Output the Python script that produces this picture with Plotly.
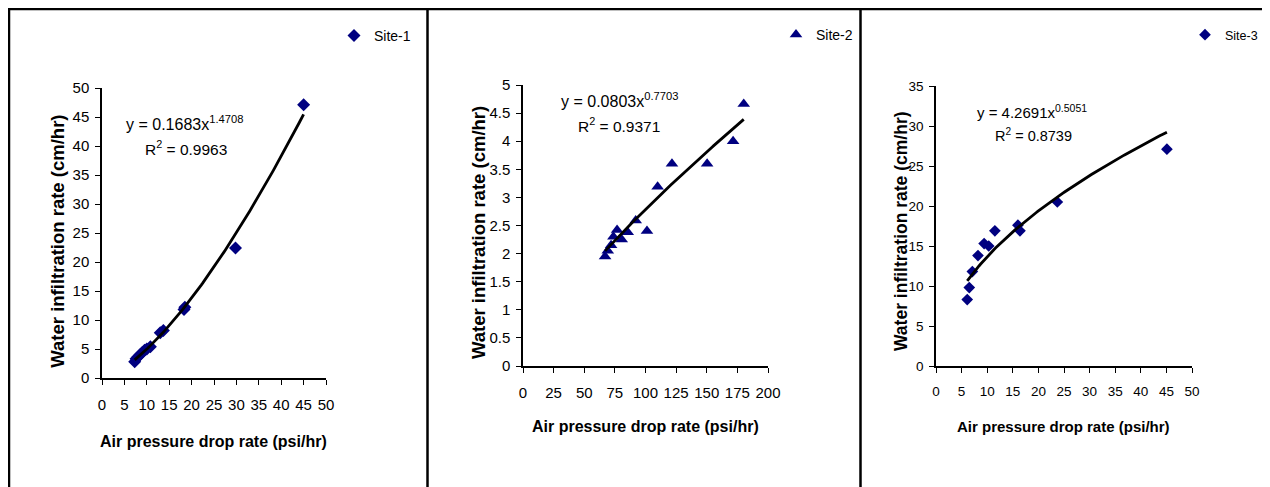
import numpy as np
import plotly.graph_objects as go

# the page body adds an 8px margin, so the figure is drawn 8px smaller and all
# reference pixel positions are shifted by that offset
OFF = 8
W, H = 1270 - OFF, 487 - OFF

# Site-1
site1_x = [7.3, 7.6, 8.0, 8.5, 9.0, 9.5, 10.0, 10.8, 13.0, 13.7, 18.3, 18.5, 29.8, 45.0]
site1_y = [2.8, 3.3, 3.6, 4.0, 4.4, 4.8, 5.0, 5.4, 7.8, 8.2, 11.8, 12.2, 22.4, 47.1]
site1_fit = (0.1683, 1.4708)

# Site-2
site2_x = [67.0, 69.2, 71.9, 73.8, 76.8, 80.6, 85.5, 92.0, 101.2, 109.9, 121.6, 150.3, 171.5, 180.2]
site2_y = [1.95, 2.05, 2.15, 2.3, 2.42, 2.25, 2.38, 2.59, 2.4, 3.19, 3.6, 3.6, 4.0, 4.66]
site2_fit = (0.0803, 0.7703)

# Site-3
site3_x = [6.1, 6.5, 7.1, 8.2, 9.4, 10.3, 11.5, 16.0, 16.4, 23.7, 45.1]
site3_y = [8.3, 9.8, 11.8, 13.8, 15.3, 15.0, 16.9, 17.6, 16.9, 20.5, 27.1]
site3_fit = (4.2691, 0.5051)

NAVY = "#000080"
FONT = "Liberation Sans, Arial, sans-serif"
NARROW = "Liberation Sans Narrow, Arial Narrow, Liberation Sans, sans-serif"


def px_x(p):
    return (p - OFF) / W


def px_y(p):
    return 1 - (p - OFF) / H


panels = [
    dict(name="Site-1", x=site1_x, y=site1_y, fit=site1_fit, symbol="diamond", size=10,
         box=(102, 326, 88, 378), xr=[0, 50], xd=5, yr=[0, 50], yd=5, font=FONT, fs=14, tfs=15,
         eq=(184.5, 123, "y = 0.1683x<sup>1.4708</sup>"), r2=(185.5, 148, "R<sup>2</sup> = 0.9963"),
         xt=(213.5, 441.7), yt=(58, 241.7), leg=(334, 36), lfs=14),
    dict(name="Site-2", x=site2_x, y=site2_y, fit=site2_fit, symbol="triangle-up", size=11,
         box=(523, 768, 85, 366), xr=[0, 200], xd=25, yr=[0, 5], yd=0.5, font=FONT, fs=14, tfs=15,
         eq=(619, 100, "y = 0.0803x<sup>0.7703</sup>"), r2=(619, 125, "R<sup>2</sup> = 0.9371"),
         xt=(645.8, 426.7), yt=(478, 233), leg=(776, 35), lfs=14),
    dict(name="Site-3", x=site3_x, y=site3_y, fit=site3_fit, symbol="diamond", size=9,
         box=(936, 1192, 86, 366), xr=[0, 50], xd=5, yr=[0, 35], yd=5, font=NARROW, fs=13, tfs=13.5,
         eq=(1032, 111, "y = 4.2691x<sup>0.5051</sup>"), r2=(1033, 135, "R<sup>2</sup> = 0.8739"),
         xt=(1063.8, 426.7), yt=(901, 231), leg=(1185, 35), lfs=12.5),
]

fig = go.Figure()
annotations = []
layout = {}

for i, p in enumerate(panels, start=1):
    sfx = "" if i == 1 else str(i)
    legend_name = "legend" if i == 1 else f"legend{i}"
    fig.add_trace(go.Scatter(
        x=p["x"], y=p["y"], mode="markers", name=p["name"],
        marker=dict(symbol=p["symbol"], size=p["size"], color=NAVY),
        xaxis=f"x{sfx}", yaxis=f"y{sfx}", legend=legend_name,
    ))
    a, b = p["fit"]
    xs = np.linspace(min(p["x"]), max(p["x"]), 120)
    fig.add_trace(go.Scatter(
        x=xs, y=a * xs ** b, mode="lines", line=dict(color="black", width=2.8),
        xaxis=f"x{sfx}", yaxis=f"y{sfx}", showlegend=False, hoverinfo="skip",
    ))

    x0, x1, y0, y1 = p["box"]
    axis_common = dict(
        showline=True, linecolor="black", linewidth=1.5, showgrid=False, zeroline=False,
        ticks="outside", ticklen=5, tickcolor="black", tickwidth=1,
        tickfont=dict(family=p["font"], size=p["tfs"], color="black"),
    )
    layout[f"xaxis{sfx}"] = dict(
        axis_common, domain=[px_x(x0), px_x(x1)], range=p["xr"], dtick=p["xd"], tick0=0,
        anchor=f"y{sfx}", ticklabelstandoff=7,
    )
    layout[f"yaxis{sfx}"] = dict(
        axis_common, domain=[px_y(y1), px_y(y0)], range=p["yr"], dtick=p["yd"], tick0=0,
        anchor=f"x{sfx}", ticklabelstandoff=3,
    )
    layout[legend_name] = dict(
        x=px_x(p["leg"][0]), y=px_y(p["leg"][1]), xanchor="left", yanchor="middle",
        bgcolor="rgba(0,0,0,0)", font=dict(family=p["font"], size=p["lfs"], color="black"),
    )

    txt = dict(xref="paper", yref="paper", showarrow=False, xanchor="center", yanchor="middle")
    annotations += [
        dict(txt, x=px_x(p["eq"][0]), y=px_y(p["eq"][1]), text=p["eq"][2],
             font=dict(family=p["font"], size=p["fs"] + 2, color="black")),
        dict(txt, x=px_x(p["r2"][0]), y=px_y(p["r2"][1]), text=p["r2"][2],
             font=dict(family=p["font"], size=p["fs"] + 1.5, color="black")),
        dict(txt, x=px_x(p["xt"][0]), y=px_y(p["xt"][1]), text="<b>Air pressure drop rate (psi/hr)</b>",
             font=dict(family=p["font"], size=p["fs"] + 2, color="black")),
        dict(txt, x=px_x(p["yt"][0]), y=px_y(p["yt"][1]), text="<b>Water infiltration rate (cm/hr)</b>",
             textangle=-90, font=dict(family=p["font"], size=p["fs"] + 4.5, color="black")),
    ]

# panel frames (the outer left/top edges sit on the very edge of the figure)
border = dict(type="line", xref="paper", yref="paper", line=dict(color="black", width=2.5))
shapes = [dict(border, x0=0, x1=px_x(1266), y0=1 - 1 / H, y1=1 - 1 / H)]
for bx in (OFF + 1, 427.5, 860.5, 1265):
    shapes.append(dict(border, x0=px_x(bx), x1=px_x(bx), y0=1, y1=0))

fig.update_layout(
    width=W, height=H, margin=dict(l=0, r=0, t=0, b=0, autoexpand=False),
    paper_bgcolor="white", plot_bgcolor="white",
    annotations=annotations, shapes=shapes, **layout,
)

fig.write_html("out.html")
